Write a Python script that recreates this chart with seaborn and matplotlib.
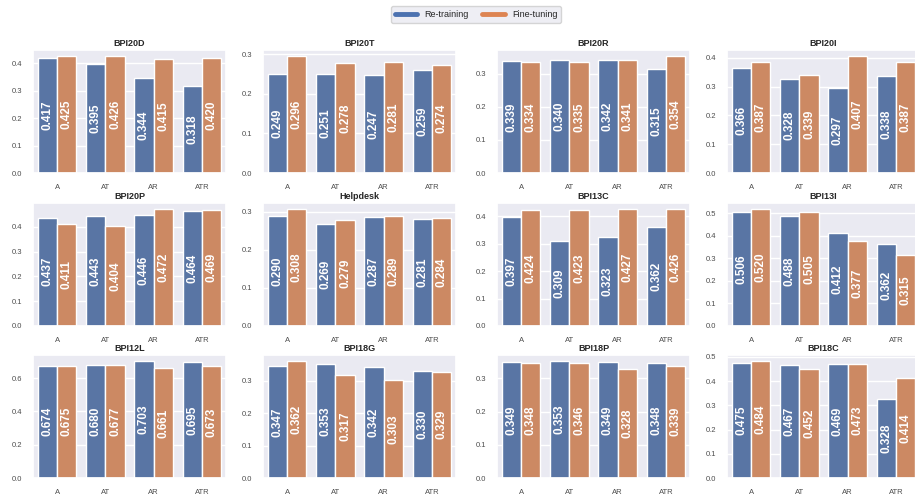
import matplotlib
matplotlib.use("Agg")
import matplotlib.pyplot as plt
from matplotlib.lines import Line2D
from matplotlib.ticker import MaxNLocator
import seaborn as sns
import pandas as pd

sns.set_theme(style="darkgrid")
plt.rcParams["font.family"] = ["Liberation Sans", "DejaVu Sans"]

variants = ["A", "AT", "AR", "ATR"]
methods = ["Re-training", "Fine-tuning"]

datasets = ["BPI20D", "BPI20T", "BPI20R", "BPI20I",
            "BPI20P", "Helpdesk", "BPI13C", "BPI13I",
            "BPI12L", "BPI18G", "BPI18P", "BPI18C"]

retrain = {
    "BPI20D": [0.417, 0.395, 0.344, 0.318],
    "BPI20T": [0.249, 0.251, 0.247, 0.259],
    "BPI20R": [0.339, 0.340, 0.342, 0.315],
    "BPI20I": [0.366, 0.328, 0.297, 0.338],
    "BPI20P": [0.437, 0.443, 0.446, 0.464],
    "Helpdesk": [0.290, 0.269, 0.287, 0.281],
    "BPI13C": [0.397, 0.309, 0.323, 0.362],
    "BPI13I": [0.506, 0.488, 0.412, 0.362],
    "BPI12L": [0.674, 0.680, 0.703, 0.695],
    "BPI18G": [0.347, 0.353, 0.342, 0.330],
    "BPI18P": [0.349, 0.353, 0.349, 0.348],
    "BPI18C": [0.475, 0.467, 0.469, 0.328],
}

finetune = {
    "BPI20D": [0.425, 0.426, 0.415, 0.420],
    "BPI20T": [0.296, 0.278, 0.281, 0.274],
    "BPI20R": [0.334, 0.335, 0.341, 0.354],
    "BPI20I": [0.387, 0.339, 0.407, 0.387],
    "BPI20P": [0.411, 0.404, 0.472, 0.469],
    "Helpdesk": [0.308, 0.279, 0.289, 0.284],
    "BPI13C": [0.424, 0.423, 0.427, 0.426],
    "BPI13I": [0.520, 0.505, 0.377, 0.315],
    "BPI12L": [0.675, 0.677, 0.661, 0.673],
    "BPI18G": [0.362, 0.317, 0.303, 0.329],
    "BPI18P": [0.348, 0.346, 0.328, 0.339],
    "BPI18C": [0.484, 0.452, 0.473, 0.414],
}

palette = sns.color_palette("deep")[:2]

W, H = 915, 498
fig = plt.figure(figsize=(W / 100, H / 100), dpi=100)

# grid of panels; the last column runs slightly past the right edge
col_left = [33, 263, 497, 727]
row_top = [50, 203, 355]
ax_w, ax_h = 193, 123

for i, name in enumerate(datasets):
    r, c = divmod(i, 4)
    ax = fig.add_axes([col_left[c] / W, (H - row_top[r] - ax_h) / H,
                       ax_w / W, ax_h / H])
    df = pd.DataFrame({
        "variant": variants * 2,
        "method": [methods[0]] * 4 + [methods[1]] * 4,
        "score": retrain[name] + finetune[name],
    })
    sns.barplot(data=df, x="variant", y="score", hue="method",
                palette=palette, ax=ax, legend=False)
    for cont in ax.containers:
        ax.bar_label(cont, fmt="%.3f", label_type="center", rotation=90,
                     color="white", fontsize=8.5, fontweight="bold")
    ax.yaxis.set_major_locator(MaxNLocator(nbins=6, steps=[1, 2, 5, 10]))
    ax.set_title(name, fontsize=6.5, fontweight="bold", pad=3)
    ax.set_xlabel("")
    ax.set_ylabel("")
    ax.tick_params(axis="both", labelsize=5.5, pad=2, labelcolor="0.3")

handles = [Line2D([0], [0], color=palette[0], lw=3.5),
           Line2D([0], [0], color=palette[1], lw=3.5)]
fig.legend(handles, methods, loc="center", bbox_to_anchor=(476 / W, 1 - 14.5 / H),
           ncol=2, fontsize=6.5, frameon=True, handlelength=2.5,
           columnspacing=1.5, borderpad=0.4)

fig.savefig("out.png", dpi=100)
